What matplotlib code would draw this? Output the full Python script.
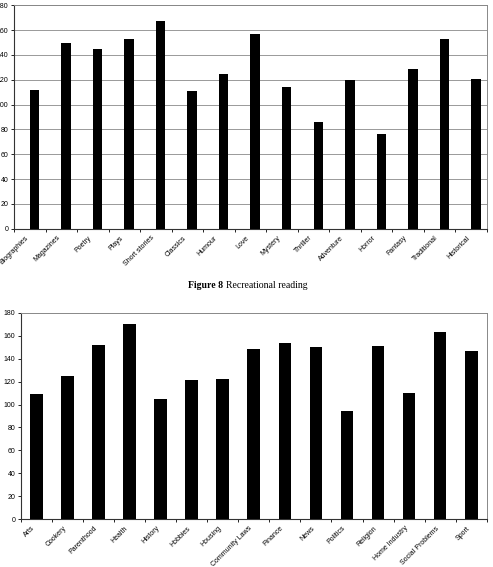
import numpy as np
import matplotlib.pyplot as plt

# recreational reading (top chart)
rec_cats = ['Biographies', 'Magazines', 'Poetry', 'Plays', 'Short stories', 'Classics',
            'Humour', 'Love', 'Mystery', 'Thriller', 'Adventure', 'Horror', 'Fantasy',
            'Traditional', 'Historical']
rec_vals = [112, 150, 145, 153, 167, 111, 125, 157, 114, 86, 120, 76, 129, 153, 121]

# bottom chart
info_cats = ['Arts', 'Cookery', 'Parenthood', 'Health', 'History', 'Hobbies', 'Housing',
             'Community Laws', 'Finance', 'News', 'Politics', 'Religion', 'Home Industry',
             'Social Problems', 'Sport']
info_vals = [109, 125, 152, 170, 105, 121, 122, 148, 154, 150, 94, 151, 110, 163, 147]

yticks = np.arange(0, 181, 20)

plt.rcParams['font.family'] = ['Liberation Sans', 'DejaVu Sans']

fig = plt.figure(figsize=(4.93, 5.67), dpi=100)


def style_axes(ax, n):
    ax.set_xlim(-0.5, n - 0.5)
    ax.set_ylim(0, 180)
    ax.set_yticks(yticks)
    ax.tick_params(axis='y', labelsize=5, length=2, width=0.6, pad=2)
    ax.set_xticks(np.arange(n))
    ax.set_xticks(np.arange(n + 1) - 0.5, minor=True)
    ax.tick_params(axis='x', which='major', length=0, labelsize=5, pad=4)
    ax.tick_params(axis='x', which='minor', length=2, width=0.6)
    for s in ['top', 'right']:
        ax.spines[s].set_color('#888888')
        ax.spines[s].set_linewidth(0.7)
    for s in ['left', 'bottom']:
        ax.spines[s].set_color('#333333')
        ax.spines[s].set_linewidth(0.8)


# top chart
ax1 = fig.add_axes([0.0284, 0.5966, 0.9594, 0.394])
x1 = np.arange(len(rec_cats))
ax1.bar(x1 + 0.15, rec_vals, width=0.3, color='black', zorder=3)
style_axes(ax1, len(rec_cats))
ax1.set_xticklabels(rec_cats, rotation=45, ha='right')
ax1.yaxis.grid(True, color='#999999', linewidth=0.7, zorder=0)

fig.text(188 / 493, 1 - 286 / 567, 'Figure 8', fontsize=7, fontweight='bold',
         family='Liberation Serif', ha='left', va='center')
fig.text(226 / 493, 1 - 286 / 567, 'Recreational reading', fontsize=7,
         family='Liberation Serif', ha='left', va='center')

# bottom chart
ax2 = fig.add_axes([0.0426, 0.0841, 0.9446, 0.3644])
x2 = np.arange(len(info_cats))
ax2.bar(x2, info_vals, width=0.41, color='black', zorder=3)
style_axes(ax2, len(info_cats))
ax2.set_xticklabels(info_cats, rotation=45, ha='right')

fig.savefig('out.png', dpi=100)
